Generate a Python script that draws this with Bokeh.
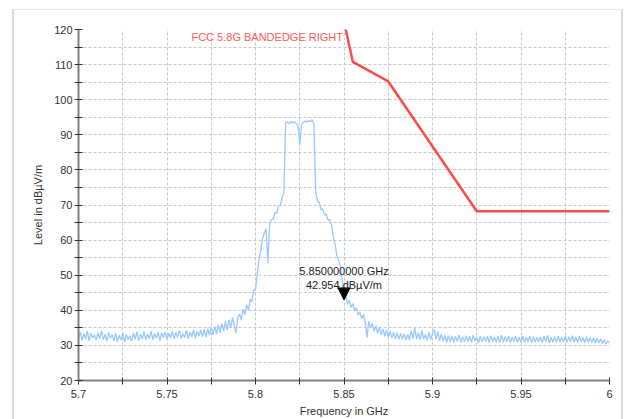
from bokeh.plotting import figure
from bokeh.models import FixedTicker, Range1d, Label, Arrow, NormalHead
from bokeh.embed import file_html
from bokeh.resources import INLINE
import numpy as np

# ---------------- data ----------------
freq_start_ghz = 5.7
freq_step_ghz = 0.001
trace_levels = [
    32.0, 33.8, 31.4, 33.3, 31.8, 34.1, 31.3, 33.5, 32.1, 33.0,
    31.5, 33.6, 31.9, 34.2, 31.6, 33.2, 31.2, 33.7, 32.0, 33.1,
    31.3, 33.4, 31.0, 32.9, 31.5, 33.6, 30.9, 33.1, 31.6, 32.8,
    31.2, 33.5, 31.7, 33.9, 31.4, 33.2, 31.8, 34.0, 31.5, 33.3,
    31.9, 34.1, 31.6, 33.4, 32.0, 33.8, 31.3, 33.6, 32.2, 33.9,
    31.7, 33.5, 32.1, 34.0, 31.8, 33.7, 32.3, 34.2, 31.9, 33.4,
    32.2, 34.3, 31.9, 33.8, 32.4, 34.5, 32.0, 33.9, 32.6, 34.4,
    32.5, 34.6, 32.3, 34.8, 32.9, 35.1, 33.0, 35.4, 33.3, 35.8,
    33.6, 36.2, 34.1, 36.9, 34.4, 37.3, 35.0, 38.0, 35.6, 33.5,
    37.9, 38.9, 37.2, 40.4, 38.8, 41.6, 40.0, 43.2, 42.5, 46.0,
    45.8, 50.5, 54.8, 57.0, 60.5, 62.0, 63.2, 53.4, 65.0, 65.8,
    66.0, 67.9, 67.6, 69.8, 69.9, 72.0, 73.4, 93.3, 93.7, 93.1,
    93.8, 93.4, 93.7, 93.2, 92.6, 87.2, 92.8, 93.6, 93.9, 93.6,
    94.1, 93.7, 94.3, 92.9, 73.8, 71.0, 70.8, 68.6, 68.9, 67.2,
    67.4, 65.6, 65.9, 64.2, 60.6, 58.8, 55.4, 54.2, 52.3, 48.5,
    42.954, 44.3, 41.7, 42.9, 40.8, 41.9, 39.8, 40.7, 38.6, 39.5,
    37.6, 38.8, 36.5, 32.2, 36.9, 34.9, 36.3, 34.0, 35.6, 33.4,
    35.2, 33.0, 34.7, 32.6, 34.4, 32.3, 34.0, 32.0, 33.8, 31.9,
    33.6, 31.7, 33.4, 31.8, 33.3, 31.6, 33.2, 31.5, 34.2, 31.9,
    35.0, 31.8, 33.6, 31.5, 34.3, 31.7, 33.1, 31.4, 33.8, 31.6,
    33.5, 34.6, 31.7, 33.9, 31.3, 33.2, 31.2, 32.9, 30.9, 32.8,
    31.0, 32.7, 30.9, 32.6, 31.1, 32.9, 30.8, 32.5, 31.0, 32.8,
    31.1, 32.6, 30.8, 32.9, 31.2, 32.4, 30.7, 32.6, 31.0, 32.5,
    31.2, 32.7, 30.8, 32.8, 31.0, 32.4, 30.9, 32.6, 30.8, 32.9,
    30.9, 32.5, 31.0, 32.7, 30.8, 32.3, 31.1, 32.6, 30.9, 32.4,
    30.8, 32.6, 30.9, 32.3, 31.0, 32.7, 30.7, 32.5, 30.9, 32.3,
    31.0, 32.4, 30.8, 32.6, 31.1, 32.9, 30.7, 32.3, 30.9, 32.5,
    30.8, 32.7, 31.0, 32.4, 30.9, 32.6, 30.8, 32.5, 31.0, 32.8,
    30.9, 32.4, 30.8, 32.6, 31.0, 32.3, 30.7, 32.5, 30.9, 32.2,
    30.8, 32.1, 30.6, 32.0, 30.7, 31.9, 30.5, 31.6, 30.4, 31.2,
    30.6,
]
limit_freqs = [5.850, 5.855, 5.875, 5.925, 6.0]
limit_levels = [122.2, 110.8, 105.2, 68.2, 68.2]
limit_name = "FCC 5.8G BANDEDGE RIGHT"
marker_freq = 5.85
marker_level = 42.954
x_ticks = [5.7, 5.75, 5.8, 5.85, 5.9, 5.95, 6.0]
x_tick_labels = ["5.7", "5.75", "5.8", "5.85", "5.9", "5.95", "6"]
x_minor_ticks = [5.725, 5.775, 5.825, 5.875, 5.925, 5.975]
y_ticks = [20, 30, 40, 50, 60, 70, 80, 90, 100, 110, 120]
y_minor_ticks = [25, 35, 45, 55, 65, 75, 85, 95, 105, 115]
x_title = "Frequency in GHz"
y_title = "Level in dBµV/m"

trace_freqs = freq_start_ghz + freq_step_ghz * np.arange(len(trace_levels))

# ---------------- figure ----------------
FONT = "Liberation Sans"
p = figure(width=626, height=419, output_backend="svg", toolbar_location=None,
           x_range=Range1d(x_ticks[0], x_ticks[-1]),
           y_range=Range1d(y_ticks[0], y_ticks[-1]),
           min_border_left=78, min_border_right=17, min_border_top=29,
           min_border_bottom=39)
p.outline_line_color = None
p.background_fill_color = "white"
p.border_fill_alpha = 0
# light card outline drawn behind the transparent border area
p.styles = {
    "background": (
        "linear-gradient(#dadada,#dadada) 12px 9px / 2px 420px no-repeat, "
        "linear-gradient(#e8e8e8,#e8e8e8) 12px 9px / 611px 1px no-repeat, "
        "linear-gradient(#dadada,#dadada) 621px 9px / 2px 420px no-repeat, "
        "white"
    )
}

p.xaxis.ticker = FixedTicker(ticks=x_ticks, minor_ticks=x_minor_ticks)
p.yaxis.ticker = FixedTicker(ticks=y_ticks, minor_ticks=y_minor_ticks)
p.xaxis.major_label_overrides = {t: l for t, l in zip(x_ticks, x_tick_labels)}

for ax in (p.xaxis[0], p.yaxis[0]):
    ax.axis_line_color = "#808080"
    ax.axis_line_width = 2
    ax.major_tick_line_color = "#333333"
    ax.minor_tick_line_color = "#333333"
    ax.major_tick_line_width = 1
    ax.minor_tick_line_width = 1
    ax.major_label_text_font = FONT
    ax.major_label_text_font_size = "11px"
    ax.major_label_text_color = "#333333"
    ax.axis_label_text_font = FONT
    ax.axis_label_text_font_size = "11px"
    ax.axis_label_text_font_style = "normal"
    ax.axis_label_text_color = "#333333"

p.xaxis.major_tick_in = 3
p.xaxis.major_tick_out = 4
p.xaxis.minor_tick_in = 3
p.xaxis.minor_tick_out = 4
p.xaxis.major_label_standoff = 5
p.xaxis.axis_label_standoff = 4
p.xaxis.axis_label = x_title

p.yaxis.major_tick_in = 4
p.yaxis.major_tick_out = 4
p.yaxis.minor_tick_in = 4
p.yaxis.minor_tick_out = 4
p.yaxis.major_label_standoff = 2
p.yaxis.axis_label_standoff = 7
p.yaxis.axis_label = y_title

for g in (p.xgrid[0], p.ygrid[0]):
    g.grid_line_color = "#c8c8c8"
    g.grid_line_dash = "3 2"
    g.grid_line_width = 1
    g.minor_grid_line_color = "#c8c8c8"
    g.minor_grid_line_dash = "3 2"
    g.minor_grid_line_width = 1

# trace
p.line(trace_freqs, trace_levels, line_color="#99c9ff", line_width=1.3)

# limit line
p.line(limit_freqs, limit_levels, line_color="#ff4a4a", line_width=2.5)
p.add_layout(Label(x=limit_freqs[0], y=y_ticks[-1], x_offset=-1, y_offset=-7,
                   text=limit_name, text_align="right", text_baseline="middle",
                   text_font=FONT, text_font_size="11px", text_color="#ff5a5a"))

# marker
p.add_layout(Arrow(end=NormalHead(size=12, fill_color="black", line_color="black"),
                   x_start=marker_freq, y_start=marker_level + 6,
                   x_end=marker_freq, y_end=marker_level, line_alpha=0))
p.add_layout(Label(x=marker_freq, y=marker_level, y_offset=9,
                   text=f"{marker_freq:.9f} GHz\n{marker_level:.3f} dBµV/m",
                   text_align="center", text_baseline="bottom",
                   text_font=FONT, text_font_size="11px", text_color="#222222"))

open("out.html", "w").write(file_html(p, INLINE))
